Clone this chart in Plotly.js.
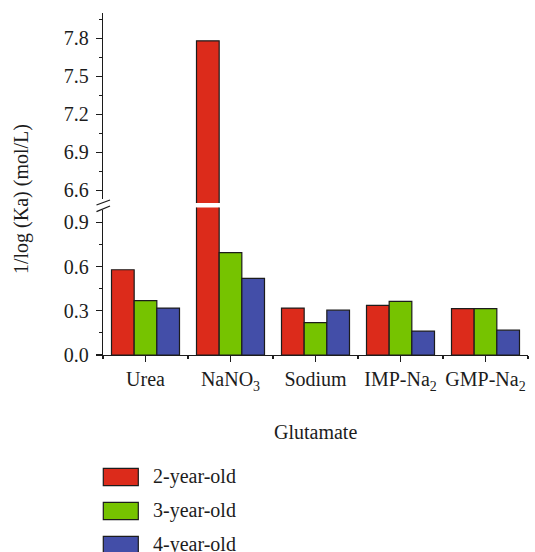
<!DOCTYPE html>
<html>
<head>
<meta charset="utf-8">
<script src="https://cdn.plot.ly/plotly-3.0.1.min.js"></script>
<style>
  html, body { margin: 0; padding: 0; background: #fff; }
  #chart { width: 535px; height: 552px; }
</style>
</head>
<body>
<div id="chart"></div>
<script>
// Binding constants of the salts (1/log Ka, mol/L) by root age
const categories = ['Urea', 'NaNO<sub>3</sub>', 'Sodium', 'IMP-Na<sub>2</sub>', 'GMP-Na<sub>2</sub>'];
const seriesNames = ['2-year-old', '3-year-old', '4-year-old'];
const twoYearOld = [0.578, 7.78, 0.318, 0.336, 0.314];
const threeYearOld = [0.368, 0.694, 0.219, 0.363, 0.314];
const fourYearOld = [0.318, 0.519, 0.304, 0.162, 0.168];
const lowerTicks = [0, 0.3, 0.6, 0.9];
const upperTicks = [6.6, 6.9, 7.2, 7.5, 7.8];

const seriesValues = [twoYearOld, threeYearOld, fourYearOld];
const seriesColors = ['#dc2b1b', '#76c300', '#434ea8'];

const W = 535, H = 552;
const M = { l: 103, r: 7, t: 13, b: 197 };
const plotW = W - M.l - M.r, plotH = H - M.t - M.b;
const px2x = px => (px - M.l) / plotW;
const px2y = py => (H - M.b - py) / plotH;

const FONT = '"Liberation Serif", "Times New Roman", serif';
const INK = '#1c1c1c';

const xIdx = categories.map((c, i) => i);

// Each series is drawn twice: once on the lower (0-1) axis and once on the
// upper (6.5-8) axis, so the tall bar continues across the axis break.
const traces = [];
['y', 'y2'].forEach(ax => {
  seriesValues.forEach((vals, s) => {
    traces.push({
      type: 'bar',
      x: xIdx,
      y: vals,
      yaxis: ax,
      name: seriesNames[s],
      showlegend: false,
      hoverinfo: 'skip',
      marker: { color: seriesColors[s], line: { color: INK, width: 1.2 } }
    });
  });
});

const axisCommon = {
  showline: true, linecolor: INK, linewidth: 1.3,
  showgrid: false, zeroline: false,
  ticks: 'outside', ticklen: 6, tickwidth: 1.2, tickcolor: INK,
  tickfont: { family: FONT, size: 20, color: INK },
  fixedrange: true
};

const shapes = [];
const annotations = [];

// Gap and double slash marking the y-axis break
shapes.push({ type: 'rect', xref: 'paper', yref: 'paper', layer: 'above',
  x0: px2x(100.5), x1: px2x(104.8), y0: px2y(199), y1: px2y(210),
  fillcolor: '#ffffff', line: { width: 0 } });
[[205, 200], [211.7, 206]].forEach(([ya, yb]) => {
  shapes.push({ type: 'line', xref: 'paper', yref: 'paper', layer: 'above',
    x0: px2x(96.5), y0: px2y(ya), x1: px2x(110), y1: px2y(yb),
    line: { color: INK, width: 1.3 } });
});

// Legend: wide swatches with labels, stacked below the axis title
seriesNames.forEach((name, s) => {
  const top = 468.3 + s * 34;
  shapes.push({ type: 'rect', xref: 'paper', yref: 'paper',
    x0: px2x(103.3), x1: px2x(138.3), y0: px2y(top), y1: px2y(top + 17.4),
    fillcolor: seriesColors[s], line: { color: INK, width: 1.2 } });
  annotations.push({ xref: 'paper', yref: 'paper', x: px2x(151), y: px2y(top + 8),
    xanchor: 'left', yanchor: 'middle', showarrow: false, text: name,
    font: { family: FONT, size: 20, color: INK } });
});

annotations.push({ xref: 'paper', yref: 'paper', x: px2x(315.5), y: px2y(432),
  xanchor: 'center', yanchor: 'middle', showarrow: false, text: 'Glutamate',
  font: { family: FONT, size: 20, color: INK } });
annotations.push({ xref: 'paper', yref: 'paper', x: px2x(21), y: px2y(199),
  xanchor: 'center', yanchor: 'middle', showarrow: false, textangle: -90,
  text: '1/log (Ka) (mol/L)',
  font: { family: FONT, size: 20, color: INK } });

const layout = {
  width: W, height: H,
  margin: M,
  paper_bgcolor: '#ffffff', plot_bgcolor: '#ffffff',
  barmode: 'group', bargap: 0.2, bargroupgap: 0,
  showlegend: false,
  font: { family: FONT, size: 20, color: INK },
  xaxis: Object.assign({}, axisCommon, {
    type: 'linear', range: [-0.5, 4.5],
    tickmode: 'array', tickvals: xIdx, ticktext: categories,
    minor: { tickmode: 'linear', tick0: 0.5, dtick: 1, ticks: 'outside', ticklen: 3, tickwidth: 1.2, tickcolor: INK },
    anchor: 'y'
  }),
  yaxis: Object.assign({}, axisCommon, {
    domain: [0, px2y(207.5)], range: [0, 1.0],
    tickmode: 'array', tickvals: lowerTicks, ticktext: lowerTicks.map(v => v.toFixed(1)),
    ticklabelstandoff: 3,
    minor: { tickmode: 'array', tickvals: [0.15, 0.45, 0.75], ticks: 'outside', ticklen: 3, tickwidth: 1.2, tickcolor: INK },
    anchor: 'x'
  }),
  yaxis2: Object.assign({}, axisCommon, {
    domain: [px2y(203), 1], range: [6.5, 8.0],
    tickmode: 'array', tickvals: upperTicks, ticktext: upperTicks.map(v => v.toFixed(1)),
    ticklabelstandoff: 3,
    minor: { tickmode: 'array', tickvals: [6.75, 7.05, 7.35, 7.65, 7.95], ticks: 'outside', ticklen: 3, tickwidth: 1.2, tickcolor: INK },
    anchor: 'x'
  }),
  shapes: shapes,
  annotations: annotations
};

Plotly.newPlot('chart', traces, layout, { displayModeBar: false, staticPlot: true });
</script>
</body>
</html>
